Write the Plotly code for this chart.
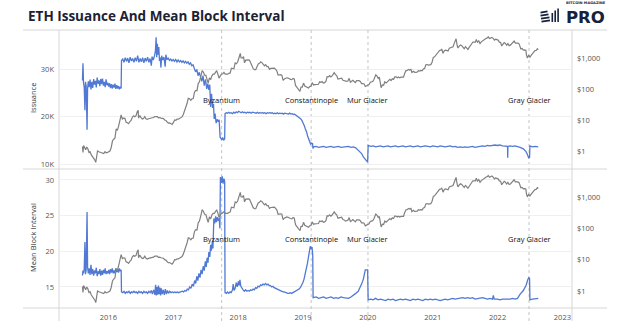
import plotly.graph_objects as go

# ---------------- data ----------------
issuance_dates = [
    "2015-08-08","2015-08-11","2015-08-14","2015-08-18","2015-08-22","2015-08-25","2015-08-29","2015-09-03",
    "2015-09-06","2015-09-10","2015-09-15","2015-09-20","2015-09-25","2015-09-30","2015-10-05","2015-10-10",
    "2015-10-15","2015-10-20","2015-10-25","2015-10-30","2015-11-04","2015-11-09","2015-11-14","2015-11-19",
    "2015-11-24","2015-11-29","2015-12-04","2015-12-09","2015-12-14","2015-12-19","2015-12-24","2015-12-29",
    "2016-01-03","2016-01-08","2016-01-13","2016-01-18","2016-01-23","2016-01-28","2016-02-02","2016-02-07",
    "2016-02-12","2016-02-17","2016-02-22","2016-02-27","2016-03-03","2016-03-08","2016-03-13","2016-03-15",
    "2016-03-22","2016-03-29","2016-04-05","2016-04-12","2016-04-19","2016-04-26","2016-05-03","2016-05-10",
    "2016-05-17","2016-05-24","2016-05-31","2016-06-07","2016-06-14","2016-06-21","2016-06-28","2016-07-05",
    "2016-07-12","2016-07-19","2016-07-26","2016-08-02","2016-08-09","2016-08-16","2016-08-23","2016-08-30",
    "2016-09-03","2016-09-10","2016-09-17","2016-09-22","2016-09-26","2016-09-29","2016-10-03","2016-10-07",
    "2016-10-11","2016-10-15","2016-10-19","2016-10-23","2016-10-27","2016-11-02","2016-11-09","2016-11-16",
    "2016-11-20","2016-11-26","2016-12-03","2016-12-10","2016-12-17","2016-12-24","2016-12-31","2017-01-07",
    "2017-01-14","2017-01-21","2017-01-28","2017-02-04","2017-02-11","2017-02-18","2017-02-25","2017-03-04",
    "2017-03-11","2017-03-18","2017-03-25","2017-04-01","2017-04-08","2017-04-15","2017-04-22","2017-04-29",
    "2017-05-06","2017-05-13","2017-05-20","2017-05-27","2017-06-03","2017-06-10","2017-06-17","2017-06-24",
    "2017-07-01","2017-07-08","2017-07-14","2017-07-20","2017-07-25","2017-07-30","2017-08-04","2017-08-10",
    "2017-08-15","2017-08-19","2017-08-24","2017-08-30","2017-09-05","2017-09-11","2017-09-16","2017-09-21",
    "2017-09-26","2017-10-01","2017-10-06","2017-10-11","2017-10-17","2017-10-19","2017-10-26","2017-11-02",
    "2017-11-09","2017-11-16","2017-11-23","2017-11-30","2017-12-07","2017-12-14","2017-12-21","2017-12-28",
    "2018-01-04","2018-01-11","2018-01-18","2018-01-25","2018-02-01","2018-02-08","2018-02-15","2018-02-22",
    "2018-03-01","2018-03-08","2018-03-15","2018-03-22","2018-03-29","2018-04-05","2018-04-12","2018-04-19",
    "2018-04-26","2018-05-03","2018-05-10","2018-05-17","2018-05-24","2018-05-31","2018-06-07","2018-06-14",
    "2018-06-21","2018-06-28","2018-07-05","2018-07-12","2018-07-19","2018-07-26","2018-08-02","2018-08-09",
    "2018-08-16","2018-08-23","2018-08-30","2018-09-06","2018-09-13","2018-09-20","2018-09-27","2018-10-04",
    "2018-10-11","2018-10-18","2018-10-25","2018-11-01","2018-11-08","2018-11-15","2018-11-22","2018-11-29",
    "2018-12-06","2018-12-13","2018-12-20","2018-12-27","2019-01-03","2019-01-09","2019-01-15","2019-01-21",
    "2019-01-27","2019-02-02","2019-02-08","2019-02-13","2019-02-19","2019-02-24","2019-02-26","2019-03-02",
    "2019-03-16","2019-03-30","2019-04-13","2019-04-27","2019-05-11","2019-05-25","2019-06-08","2019-06-22",
    "2019-07-06","2019-07-20","2019-08-03","2019-08-17","2019-08-31","2019-09-14","2019-09-28","2019-10-11",
    "2019-10-25","2019-11-08","2019-11-18","2019-11-27","2019-12-07","2019-12-15","2019-12-22","2019-12-31",
    "2020-01-03","2020-01-17","2020-01-31","2020-02-14","2020-02-28","2020-03-13","2020-03-27","2020-04-10",
    "2020-04-24","2020-05-08","2020-05-22","2020-06-05","2020-06-19","2020-07-03","2020-07-17","2020-07-31",
    "2020-08-14","2020-08-28","2020-09-11","2020-09-25","2020-10-09","2020-10-23","2020-11-06","2020-11-20",
    "2020-12-04","2020-12-18","2021-01-01","2021-01-15","2021-01-29","2021-02-12","2021-02-26","2021-03-12",
    "2021-03-26","2021-04-09","2021-04-23","2021-05-07","2021-05-21","2021-06-04","2021-06-18","2021-07-02",
    "2021-07-16","2021-07-30","2021-08-13","2021-08-27","2021-09-10","2021-09-24","2021-10-08","2021-10-22",
    "2021-11-05","2021-11-19","2021-12-03","2021-12-17","2021-12-31","2022-01-14","2022-01-28","2022-02-11",
    "2022-02-26","2022-02-27","2022-02-28","2022-03-12","2022-03-26","2022-04-09","2022-04-23","2022-05-08",
    "2022-05-26","2022-06-10","2022-06-18","2022-06-25","2022-06-30","2022-07-02","2022-07-16","2022-07-30",
    "2022-08-18",
]
issuance_values = [
    27600,31200,27100,26200,21300,27300,26400,17200,
    25900,27400,26200,27800,25700,27300,26000,27900,
    26700,27500,26100,28200,26900,27600,26400,27900,
    26800,28000,26500,27300,26200,27800,26600,27100,
    26300,27000,26000,26800,25900,26700,26100,26900,
    25800,26600,25900,26400,25700,26300,25900,31800,
    32100,31400,32400,31600,32300,31300,32500,31700,
    32200,31400,32400,31600,32800,31400,32200,31500,
    32400,31300,32300,31600,32500,31400,32200,30700,
    32600,31900,32800,33800,36700,32500,35300,33000,
    34600,31700,32400,30300,32800,31900,32500,30500,
    33000,32000,32300,31800,32100,31700,32000,31600,
    32000,31500,31900,31500,31800,31400,31700,31300,
    31600,31200,31500,31000,31300,30700,30900,30000,
    29400,29900,28600,29300,28000,27400,28600,26500,
    27800,25800,26900,25600,26700,22000,24800,21800,
    22700,19500,20600,18600,19400,18900,19300,15700,
    15400,15100,15600,15000,15300,20600,20800,20700,
    20900,20700,20800,20600,20900,20700,21000,20800,
    21100,20900,20800,21000,20800,20900,20700,20900,
    20800,20900,20700,20900,20800,20800,20700,20900,
    20700,20800,20700,20800,20700,20800,20600,20800,
    20700,20800,20700,20800,20600,20700,20600,20800,
    20600,20700,20600,20700,20500,20700,20600,20600,
    20500,20700,20500,20600,20400,20500,20300,20200,
    20000,19800,19500,19100,18600,18000,17300,16800,
    15900,15200,14500,14200,14400,14300,13300,13600,
    13700,13500,13600,13700,13500,13600,13700,13500,
    13600,13700,13500,13600,13600,13700,13500,13600,
    13400,12900,12600,12200,11500,11100,10600,10400,
    13900,13700,13800,13600,13700,13800,13600,13700,
    13800,13600,13700,13800,13600,13700,13800,13600,
    13700,13800,13600,13700,13800,13600,13700,13800,
    13700,13600,13800,13700,13600,13800,13700,13600,
    13700,13800,13600,13700,13500,13600,13500,13600,
    13500,13600,13700,13500,13600,13700,13800,13700,
    13900,13800,13900,14000,13900,14000,13800,13700,
    13700,11300,13700,13800,13700,13800,13700,13500,
    13200,12600,12000,11300,11400,13800,13600,13700,
    13600,
]

interval_dates = [
    "2015-08-08","2015-08-11","2015-08-14","2015-08-18","2015-08-22","2015-08-25","2015-08-29","2015-09-03",
    "2015-09-06","2015-09-10","2015-09-15","2015-09-20","2015-09-25","2015-09-30","2015-10-05","2015-10-10",
    "2015-10-15","2015-10-20","2015-10-25","2015-10-30","2015-11-04","2015-11-09","2015-11-14","2015-11-19",
    "2015-11-24","2015-11-29","2015-12-04","2015-12-09","2015-12-14","2015-12-19","2015-12-24","2015-12-29",
    "2016-01-03","2016-01-08","2016-01-13","2016-01-18","2016-01-23","2016-01-28","2016-02-02","2016-02-07",
    "2016-02-12","2016-02-17","2016-02-22","2016-02-27","2016-03-03","2016-03-08","2016-03-13","2016-03-15",
    "2016-03-22","2016-03-29","2016-04-05","2016-04-12","2016-04-19","2016-04-26","2016-05-03","2016-05-10",
    "2016-05-17","2016-05-24","2016-05-31","2016-06-07","2016-06-14","2016-06-21","2016-06-28","2016-07-05",
    "2016-07-12","2016-07-19","2016-07-26","2016-08-02","2016-08-09","2016-08-16","2016-08-23","2016-08-30",
    "2016-09-05","2016-09-12","2016-09-19","2016-09-23","2016-09-27","2016-10-01","2016-10-05","2016-10-09",
    "2016-10-13","2016-10-17","2016-10-21","2016-10-25","2016-10-30","2016-11-05","2016-11-11","2016-11-17",
    "2016-11-23","2016-11-29","2016-12-05","2016-12-12","2016-12-19","2016-12-26","2017-01-02","2017-01-09",
    "2017-01-16","2017-01-23","2017-01-30","2017-02-06","2017-02-13","2017-02-20","2017-02-27","2017-03-06",
    "2017-03-13","2017-03-20","2017-03-27","2017-04-03","2017-04-10","2017-04-17","2017-04-24","2017-05-01",
    "2017-05-07","2017-05-13","2017-05-19","2017-05-25","2017-05-31","2017-06-06","2017-06-12","2017-06-18",
    "2017-06-24","2017-06-30","2017-07-05","2017-07-10","2017-07-15","2017-07-20","2017-07-25","2017-07-30",
    "2017-08-03","2017-08-08","2017-08-12","2017-08-17","2017-08-22","2017-08-27","2017-09-01","2017-09-06",
    "2017-09-11","2017-09-16","2017-09-20","2017-09-23","2017-09-28","2017-10-03","2017-10-08","2017-10-13",
    "2017-10-17","2017-10-19","2017-10-26","2017-11-02","2017-11-09","2017-11-16","2017-11-23","2017-11-30",
    "2017-12-04","2017-12-09","2017-12-15","2017-12-21","2017-12-27","2018-01-02","2018-01-07","2018-01-11",
    "2018-01-16","2018-01-22","2018-01-29","2018-02-05","2018-02-12","2018-02-19","2018-02-26","2018-03-05",
    "2018-03-12","2018-03-19","2018-03-26","2018-04-02","2018-04-09","2018-04-16","2018-04-23","2018-04-30",
    "2018-05-07","2018-05-14","2018-05-21","2018-05-28","2018-06-04","2018-06-11","2018-06-18","2018-06-25",
    "2018-07-02","2018-07-09","2018-07-16","2018-07-23","2018-07-30","2018-08-06","2018-08-13","2018-08-20",
    "2018-08-27","2018-09-03","2018-09-10","2018-09-17","2018-09-24","2018-10-01","2018-10-08","2018-10-15",
    "2018-10-22","2018-10-29","2018-11-05","2018-11-12","2018-11-19","2018-11-26","2018-12-03","2018-12-10",
    "2018-12-17","2018-12-24","2018-12-31","2019-01-07","2019-01-14","2019-01-20","2019-01-26","2019-02-01",
    "2019-02-06","2019-02-11","2019-02-16","2019-02-21","2019-02-25","2019-02-27",
    "2019-03-16","2019-03-30","2019-04-13","2019-04-27","2019-05-11","2019-05-25","2019-06-08","2019-06-22",
    "2019-07-06","2019-07-20","2019-08-03","2019-08-17","2019-08-31","2019-09-14","2019-09-28","2019-10-11",
    "2019-10-25","2019-11-08","2019-11-18","2019-11-27","2019-12-07","2019-12-13","2019-12-18","2019-12-31",
    "2020-01-03","2020-01-17","2020-01-31","2020-02-14","2020-02-28","2020-03-13","2020-03-27","2020-04-10",
    "2020-04-24","2020-05-08","2020-05-22","2020-06-05","2020-06-19","2020-07-03","2020-07-17","2020-07-31",
    "2020-08-14","2020-08-28","2020-09-11","2020-09-25","2020-10-09","2020-10-23","2020-11-06","2020-11-20",
    "2020-12-04","2020-12-18","2021-01-01","2021-01-15","2021-01-29","2021-02-12","2021-02-26","2021-03-12",
    "2021-03-26","2021-04-09","2021-04-23","2021-05-07","2021-05-21","2021-06-04","2021-06-18","2021-07-02",
    "2021-07-16","2021-07-30","2021-08-13","2021-08-27","2021-09-10","2021-09-24","2021-10-08","2021-10-22",
    "2021-11-05","2021-11-19","2021-12-03","2021-12-08","2021-12-13","2021-12-31","2022-01-14","2022-01-28",
    "2022-02-11","2022-02-25","2022-03-12","2022-03-26","2022-04-09","2022-04-23","2022-05-08","2022-05-26",
    "2022-06-10","2022-06-20","2022-06-25","2022-06-30","2022-07-02","2022-07-16","2022-07-30","2022-08-18",
]
interval_values = [
    16.6,17.3,16.9,17.5,21.3,16.8,17.4,25.5,
    17.8,16.9,17.6,16.7,18.1,16.8,17.5,16.6,
    17.3,16.9,17.7,16.5,17.2,16.8,17.5,16.6,
    17.3,16.7,17.4,16.9,17.6,16.8,17.2,16.9,
    17.4,16.8,17.5,17.0,17.6,16.9,17.3,16.9,
    17.6,17.1,17.5,17.0,17.6,17.2,17.4,14.3,
    14.2,14.4,14.1,14.3,14.2,14.4,14.1,14.3,
    14.2,14.4,14.2,14.3,14.1,14.4,14.2,14.3,
    14.1,14.4,14.2,14.3,14.1,14.4,14.2,14.5,
    14.0,14.6,13.9,15.3,13.8,15.0,13.9,15.2,
    14.0,14.9,13.8,14.8,14.0,14.6,13.9,14.7,
    14.0,14.5,14.1,14.4,14.2,14.3,14.2,14.3,
    14.2,14.3,14.2,14.3,14.3,14.4,14.3,14.5,
    14.4,14.7,14.6,15.0,14.8,15.4,15.1,15.9,
    15.5,16.5,15.9,16.9,16.3,17.4,16.8,17.9,
    17.3,18.6,17.8,19.1,18.4,19.9,19.2,20.9,
    20.1,21.3,20.4,24.6,23.9,24.9,24.1,24.8,
    24.3,24.6,23.2,30.4,29.6,30.5,29.5,30.2,
    29.8,14.2,14.1,14.3,14.1,14.3,14.2,14.6,
    15.4,14.5,14.8,15.6,15.0,15.8,15.2,16.0,
    15.1,14.8,14.6,14.4,14.6,14.4,14.5,14.4,
    14.6,14.5,14.7,14.6,14.9,14.8,15.1,15.0,
    15.3,15.2,15.4,15.3,15.5,15.3,15.4,15.2,
    15.2,15.0,15.1,14.9,14.8,14.7,14.6,14.5,
    14.5,14.4,14.3,14.3,14.2,14.2,14.1,14.1,
    14.2,14.1,14.2,14.2,14.3,14.4,14.5,14.7,
    14.9,15.2,15.6,16.1,16.8,17.5,18.3,19.2,
    20.0,20.7,20.3,20.6,19.4,13.5,
    13.6,13.4,13.5,13.6,13.4,13.5,13.6,13.4,
    13.5,13.4,13.6,13.5,13.5,13.4,13.6,13.9,
    14.1,14.4,14.9,15.4,16.1,16.8,17.4,17.4,
    13.2,13.3,13.2,13.4,13.2,13.3,13.2,13.1,
    13.3,13.2,13.3,13.1,13.2,13.3,13.2,13.3,
    13.2,13.1,13.3,13.2,13.3,13.2,13.1,13.3,
    13.2,13.3,13.2,13.3,13.2,13.1,13.2,13.3,
    13.2,13.3,13.4,13.3,13.4,13.4,13.5,13.4,
    13.5,13.4,13.5,13.3,13.4,13.4,13.5,13.4,
    13.3,13.4,13.3,13.8,13.3,13.3,13.2,13.3,
    13.3,13.2,13.3,13.4,13.3,13.4,14.0,14.5,
    15.2,16.0,16.3,16.2,13.2,13.3,13.3,13.4,
]

price_dates = [
    "2015-08-08","2015-08-11","2015-08-15","2015-08-20","2015-08-26","2015-09-01","2015-09-07","2015-09-14",
    "2015-09-20","2015-09-27","2015-10-04","2015-10-11","2015-10-18","2015-10-22","2015-10-28","2015-11-01",
    "2015-11-08","2015-11-15","2015-11-22","2015-11-29","2015-12-06","2015-12-13","2015-12-20","2015-12-27",
    "2016-01-03","2016-01-10","2016-01-17","2016-01-24","2016-01-31","2016-02-07","2016-02-14","2016-02-21",
    "2016-02-28","2016-03-06","2016-03-13","2016-03-20","2016-03-27","2016-04-03","2016-04-10","2016-04-17",
    "2016-04-24","2016-05-01","2016-05-08","2016-05-15","2016-05-22","2016-05-29","2016-06-05","2016-06-12",
    "2016-06-17","2016-06-19","2016-06-26","2016-07-03","2016-07-10","2016-07-17","2016-07-24","2016-07-31",
    "2016-08-07","2016-08-14","2016-08-21","2016-08-28","2016-09-04","2016-09-11","2016-09-18","2016-09-25",
    "2016-10-02","2016-10-09","2016-10-16","2016-10-23","2016-10-30","2016-11-06","2016-11-13","2016-11-20",
    "2016-11-27","2016-12-04","2016-12-11","2016-12-18","2016-12-25","2017-01-01","2017-01-08","2017-01-15",
    "2017-01-22","2017-01-29","2017-02-05","2017-02-12","2017-02-19","2017-02-26","2017-03-05","2017-03-12",
    "2017-03-15","2017-03-19","2017-03-26","2017-04-02","2017-04-09","2017-04-16","2017-04-23","2017-04-30",
    "2017-05-07","2017-05-14","2017-05-21","2017-05-28","2017-06-04","2017-06-12","2017-06-19","2017-06-26",
    "2017-07-03","2017-07-10","2017-07-16","2017-07-23","2017-07-30","2017-08-06","2017-08-13","2017-08-20",
    "2017-08-27","2017-09-02","2017-09-09","2017-09-15","2017-09-22","2017-09-29","2017-10-06","2017-10-13",
    "2017-10-20","2017-10-27","2017-11-03","2017-11-10","2017-11-17","2017-11-24","2017-12-01","2017-12-08",
    "2017-12-15","2017-12-22","2017-12-29","2018-01-05","2018-01-13","2018-01-17","2018-01-24","2018-01-31",
    "2018-02-06","2018-02-13","2018-02-20","2018-02-27","2018-03-06","2018-03-13","2018-03-20","2018-03-27",
    "2018-04-03","2018-04-10","2018-04-17","2018-04-24","2018-05-01","2018-05-08","2018-05-15","2018-05-22",
    "2018-05-29","2018-06-05","2018-06-12","2018-06-19","2018-06-26","2018-07-03","2018-07-10","2018-07-17",
    "2018-07-24","2018-07-31","2018-08-07","2018-08-14","2018-08-21","2018-08-28","2018-09-04","2018-09-11",
    "2018-09-18","2018-09-25","2018-10-02","2018-10-09","2018-10-16","2018-10-23","2018-10-30","2018-11-06",
    "2018-11-13","2018-11-20","2018-11-27","2018-12-04","2018-12-11","2018-12-15","2018-12-21","2018-12-28",
    "2019-01-04","2019-01-11","2019-01-18","2019-01-25","2019-02-01","2019-02-08","2019-02-15","2019-02-22",
    "2019-03-01","2019-03-08","2019-03-15","2019-03-22","2019-03-29","2019-04-05","2019-04-12","2019-04-19",
    "2019-04-26","2019-05-03","2019-05-10","2019-05-17","2019-05-24","2019-05-31","2019-06-07","2019-06-14",
    "2019-06-21","2019-06-26","2019-07-03","2019-07-10","2019-07-17","2019-07-24","2019-07-31","2019-08-07",
    "2019-08-14","2019-08-21","2019-08-28","2019-09-04","2019-09-11","2019-09-18","2019-09-25","2019-10-02",
    "2019-10-09","2019-10-16","2019-10-23","2019-10-30","2019-11-06","2019-11-13","2019-11-20","2019-11-27",
    "2019-12-04","2019-12-11","2019-12-18","2019-12-25","2020-01-01","2020-01-08","2020-01-15","2020-01-22",
    "2020-01-29","2020-02-05","2020-02-12","2020-02-15","2020-02-22","2020-02-29","2020-03-06","2020-03-12",
    "2020-03-16","2020-03-23","2020-03-30","2020-04-06","2020-04-13","2020-04-20","2020-04-27","2020-05-04",
    "2020-05-11","2020-05-18","2020-05-25","2020-06-01","2020-06-08","2020-06-15","2020-06-22","2020-06-29",
    "2020-07-06","2020-07-13","2020-07-20","2020-07-27","2020-08-03","2020-08-10","2020-08-17","2020-08-24",
    "2020-08-31","2020-09-05","2020-09-14","2020-09-21","2020-09-28","2020-10-05","2020-10-12","2020-10-19",
    "2020-10-26","2020-11-02","2020-11-09","2020-11-16","2020-11-23","2020-11-30","2020-12-07","2020-12-14",
    "2020-12-21","2020-12-28","2021-01-04","2021-01-11","2021-01-18","2021-01-25","2021-02-01","2021-02-08",
    "2021-02-15","2021-02-20","2021-02-28","2021-03-07","2021-03-14","2021-03-21","2021-03-28","2021-04-04",
    "2021-04-11","2021-04-18","2021-04-25","2021-05-02","2021-05-09","2021-05-12","2021-05-19","2021-05-23",
    "2021-05-30","2021-06-06","2021-06-13","2021-06-20","2021-06-27","2021-07-04","2021-07-11","2021-07-18",
    "2021-07-25","2021-08-01","2021-08-08","2021-08-15","2021-08-22","2021-08-29","2021-09-03","2021-09-10",
    "2021-09-17","2021-09-24","2021-10-01","2021-10-08","2021-10-15","2021-10-22","2021-10-29","2021-11-05",
    "2021-11-09","2021-11-16","2021-11-23","2021-11-30","2021-12-07","2021-12-14","2021-12-21","2021-12-28",
    "2022-01-04","2022-01-11","2022-01-18","2022-01-24","2022-01-31","2022-02-07","2022-02-14","2022-02-21",
    "2022-02-28","2022-03-07","2022-03-14","2022-03-21","2022-03-28","2022-04-04","2022-04-11","2022-04-18",
    "2022-04-25","2022-05-02","2022-05-09","2022-05-12","2022-05-19","2022-05-26","2022-06-02","2022-06-09",
    "2022-06-13","2022-06-18","2022-06-25","2022-07-02","2022-07-09","2022-07-16","2022-07-23","2022-07-30",
    "2022-08-06","2022-08-13","2022-08-18",
]
price_values = [
    1.4,0.9,1.5,1.3,1.1,1.35,1.2,0.9,
    0.95,0.75,0.65,0.6,0.5,0.43,0.95,1.0,
    0.95,0.92,0.88,0.87,0.83,0.95,0.88,0.9,
    0.95,1.0,1.3,2.1,2.4,2.6,5.2,4.6,
    6.5,10.5,14.5,10.8,11.5,11.3,8.5,8.2,
    7.6,8.9,9.7,12.3,13.6,12.8,13.7,18.7,
    20.6,11.5,14.0,12.0,10.8,11.2,12.9,11.0,
    10.5,11.0,11.2,11.5,11.9,12.0,12.9,12.7,
    12.9,11.8,12.0,11.5,11.2,11.1,10.0,9.7,
    8.6,8.0,8.1,7.7,7.2,8.2,10.0,9.8,
    10.6,10.6,11.2,11.4,12.6,15.0,19.5,22.5,
    28.5,34,50,48.5,43,48,49,79,
    90,88,150,170,245,390,350,280,
    275,210,155,230,200,265,300,300,
    340,390,300,225,260,300,310,340,
    300,300,300,320,330,470,460,450,
    690,650,740,960,1400,1010,990,1110,
    700,850,880,870,850,690,560,450,
    420,420,520,640,670,750,710,650,
    560,610,530,530,430,460,470,480,
    470,430,380,280,290,290,280,190,
    210,220,230,225,210,205,200,220,
    210,130,115,105,90,84,115,115,
    155,125,120,115,108,120,123,160,
    135,138,140,137,142,170,165,173,
    155,160,175,250,245,268,245,265,
    295,335,290,270,210,215,215,225,
    190,185,170,175,180,220,165,175,
    190,175,160,185,190,185,175,150,
    150,145,120,125,130,140,165,168,
    175,205,265,285,260,220,240,112,
    110,135,132,170,157,170,195,205,
    188,215,205,245,245,230,243,228,
    240,240,240,320,390,395,430,410,
    430,340,375,345,355,350,390,380,
    395,385,445,460,600,615,590,590,
    610,730,1040,1090,1230,1320,1480,1750,
    1780,1940,1420,1720,1790,1780,1690,2080,
    2150,2240,2310,2950,3900,4170,2430,2100,
    2400,2630,2500,2170,1990,2320,2140,1890,
    2190,2560,3010,3270,3240,3230,3940,3210,
    3570,2930,3310,3560,3870,3970,4290,4480,
    4810,4230,4340,4630,4300,3780,4020,3800,
    3770,3240,3160,2440,2690,3150,2930,2570,
    2920,2500,2590,2900,3330,3520,3030,3060,
    3010,2860,2240,1960,2020,1800,1830,1790,
    1210,1000,1240,1070,1220,1360,1550,1720,
    1740,1980,1850,
]

event_names = ["Byzantium", "Constantinople", "Mur Glacier", "Gray Glacier"]
event_dates = ["2017-09-30", "2019-02-16", "2020-01-02", "2022-06-27"]

year_ticks = ["2016-01-01","2017-01-01","2018-01-01","2019-01-01","2020-01-01","2021-01-01","2022-01-01","2023-01-01"]
year_labels = ["2016","2017","2018","2019","2020","2021","2022","2023"]
issuance_ticks = [10000, 20000, 30000]
issuance_labels = ["10K", "20K", "30K"]
interval_ticks = [15, 20, 25, 30]
interval_labels = ["15", "20", "25", "30"]
price_ticks = [1, 10, 100, 1000]
price_labels = ["$1", "$10", "$100", "$1,000"]

# ---------------- layout helpers ----------------
W, H = 628, 321
L, R, T, B = 59, 572, 31, 308
SPLIT = 169


def px(xp):
    return (xp - L) / (R - L)


def py(yp):
    return (B - yp) / (B - T)


BLUE = "#5079d3"
GREY = "#808080"
FONT = "Open Sans"
split_dom = py(SPLIT)

fig = go.Figure()
fig.add_trace(go.Scatter(x=issuance_dates, y=issuance_values, xaxis="x2", yaxis="y",
                         mode="lines", line=dict(color=BLUE, width=1.3), showlegend=False))
fig.add_trace(go.Scatter(x=price_dates, y=price_values, xaxis="x2", yaxis="y2",
                         mode="lines", line=dict(color=GREY, width=1.2), showlegend=False))
fig.add_trace(go.Scatter(x=interval_dates, y=interval_values, xaxis="x", yaxis="y3",
                         mode="lines", line=dict(color=BLUE, width=1.3), showlegend=False))
fig.add_trace(go.Scatter(x=price_dates, y=price_values, xaxis="x", yaxis="y4",
                         mode="lines", line=dict(color=GREY, width=1.2), showlegend=False))

tickfont = dict(family=FONT, size=7.5, color="#555555")
xr = ["2015-03-29", "2023-02-24"]

fig.update_layout(
    width=W, height=H,
    margin=dict(l=L, r=W - R, t=T, b=H - B, autoexpand=False),
    paper_bgcolor="white", plot_bgcolor="white",
    showlegend=False,
    xaxis=dict(domain=[0, 1], anchor="y3", range=xr, type="date", automargin=False,
               tickvals=year_ticks, ticktext=year_labels, showgrid=False, zeroline=False,
               showline=False, ticks="", tickfont=tickfont, ticklabelstandoff=3),
    xaxis2=dict(domain=[0, 1], anchor="y", range=xr, type="date", matches="x", automargin=False,
                showticklabels=False, showgrid=False, zeroline=False, showline=False, ticks=""),
    yaxis=dict(domain=[split_dom, 1], anchor="x2", range=[8950, 38000], automargin=False,
               tickvals=issuance_ticks, ticktext=issuance_labels,
               showgrid=True, gridcolor="#efefef", gridwidth=1, zeroline=False, showline=False,
               ticks="", tickfont=tickfont, ticklabelstandoff=4),
    yaxis2=dict(overlaying="y", anchor="x2", side="right", type="log", range=[-0.58, 3.87],
                automargin=False,
                tickvals=price_ticks, ticktext=price_labels, showgrid=False, zeroline=False,
                showline=False, ticks="", tickfont=tickfont, ticklabelstandoff=4),
    yaxis3=dict(domain=[0, split_dom], anchor="x", range=[12.05, 31.54], automargin=False,
                tickvals=interval_ticks, ticktext=interval_labels,
                showgrid=True, gridcolor="#efefef", gridwidth=1, zeroline=False, showline=False,
                ticks="", tickfont=tickfont, ticklabelstandoff=4),
    yaxis4=dict(overlaying="y3", anchor="x", side="right", type="log", range=[-0.54, 3.89],
                automargin=False,
                tickvals=price_ticks, ticktext=price_labels, showgrid=False, zeroline=False,
                showline=False, ticks="", tickfont=tickfont, ticklabelstandoff=4),
)

shapes = []
border = dict(color="#d6d6d6", width=1)
for yp in (30, SPLIT, B):
    shapes.append(dict(type="line", xref="paper", yref="paper", x0=px(23), x1=px(607),
                       y0=py(yp), y1=py(yp), line=border, layer="below"))
for xp in (L, R):
    shapes.append(dict(type="line", xref="paper", yref="paper", x0=px(xp), x1=px(xp),
                       y0=py(30), y1=py(H), line=border, layer="below"))
for d in event_dates:
    shapes.append(dict(type="line", xref="x", yref="paper", x0=d, x1=d,
                       y0=py(H), y1=py(30), line=dict(color="#c4c4c4", width=1, dash="dot"),
                       layer="below"))

# logo stripes
navy = "#16213a"
for yy, x0, x1 in ((12.0, 540.5, 547.5), (15.0, 540.5, 548.5), (18.0, 541, 549.5), (21.0, 541.5, 550)):
    shapes.append(dict(type="line", xref="paper", yref="paper", x0=px(x0), x1=px(x1),
                       y0=py(yy + 0.6), y1=py(yy - 0.6), line=dict(color=navy, width=1.8)))
for xx, ytop in ((552.3, 13.0), (555.2, 10.5), (558.1, 8.5)):
    shapes.append(dict(type="line", xref="paper", yref="paper", x0=px(xx), x1=px(xx),
                       y0=py(22), y1=py(ytop), line=dict(color=navy, width=1.6)))
fig.update_layout(shapes=shapes)

ann = []
ann.append(dict(text="<b>ETH Issuance And Mean Block Interval</b>", xref="paper", yref="paper",
                x=px(26), y=py(16), xanchor="left", yanchor="middle", showarrow=False,
                font=dict(family=FONT, size=13.5, color="#1c2233")))
ann.append(dict(text="<b>PRO</b>", xref="paper", yref="paper", x=px(585.5), y=py(17.3),
                xanchor="center", yanchor="middle", showarrow=False, borderpad=0,
                font=dict(family="DejaVu Sans", size=16.5, color=navy)))
ann.append(dict(text="<b>BITCOIN MAGAZINE</b>", xref="paper", yref="paper", x=px(586), y=py(3.4),
                xanchor="center", yanchor="middle", showarrow=False, borderpad=0,
                font=dict(family="DejaVu Sans", size=3.6, color=navy)))
ann.append(dict(text="Issuance", xref="paper", yref="paper", x=px(33), y=py(98), textangle=-90,
                xanchor="center", yanchor="middle", showarrow=False,
                font=dict(family=FONT, size=7.5, color="#333333")))
ann.append(dict(text="Mean Block Interval", xref="paper", yref="paper", x=px(33), y=py(238),
                textangle=-90, xanchor="center", yanchor="middle", showarrow=False,
                font=dict(family=FONT, size=7.5, color="#333333")))
for name, d in zip(event_names, event_dates):
    for yp in (100, 239):
        ann.append(dict(text=name, xref="x", yref="paper", x=d, y=py(yp), xanchor="center",
                        yanchor="middle", showarrow=False,
                        font=dict(family=FONT, size=7.5, color="#111111")))
fig.update_layout(annotations=ann)

fig.write_html("out.html")
